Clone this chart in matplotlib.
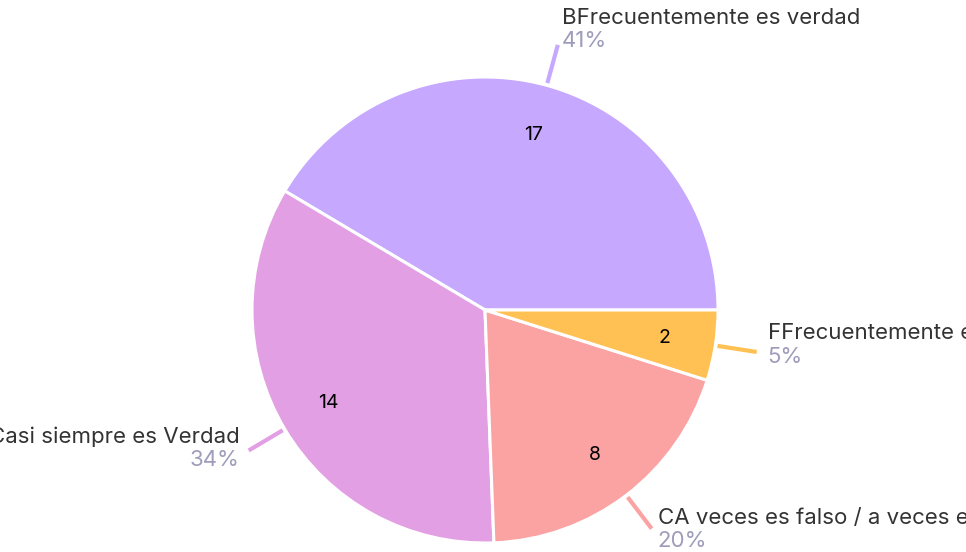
import matplotlib.pyplot as plt
import numpy as np

labels = ["BFrecuentemente es verdad", "Casi siempre es Verdad",
          "CA veces es falso / a veces es verdad", "FFrecuentemente es falso"]
counts = [17, 14, 8, 2]
colors = ["#c6a8ff", "#e29fe3", "#fba3a3", "#ffc153"]

W, H = 966, 552
fig = plt.figure(figsize=(W / 100, H / 100), dpi=100)
ax = fig.add_axes([0, 0, 1, 1])

cx, cy, r = 485, H - 310, 233
wedges, _ = ax.pie(counts, colors=colors, startangle=0, counterclock=True,
                   center=(cx, cy), radius=r, frame=True,
                   wedgeprops=dict(edgecolor="white", linewidth=2.2))
ax.set_xlim(0, W)
ax.set_ylim(0, H)
ax.set_aspect("equal")
ax.axis("off")

total = sum(counts)
# label block offsets (dx, label dy, pct dy) relative to leader end, in px
offs = [(4, 27, 4), (-9, 14, -10), (6, 11, -12), (11, 19, -5)]
for w, n, lab, col, (dx, dyl, dyp) in zip(wedges, counts, labels, colors, offs):
    a = np.deg2rad((w.theta1 + w.theta2) / 2)
    c, s = np.cos(a), np.sin(a)
    # count inside
    rin = 0.78 * r
    ax.text(cx + rin * c, cy + rin * s, str(n), ha="center", va="center",
            fontsize=14, color="black", family="Inter")
    x0, y0 = cx + 1.01 * r * c, cy + 1.01 * r * s
    x1, y1 = cx + 1.18 * r * c, cy + 1.18 * r * s
    ax.plot([x0, x1], [y0, y1], color=col, lw=3, solid_capstyle="butt")
    ha = "left" if c > 0 else "right"
    ax.text(x1 + dx, y1 + dyl, lab, ha=ha, va="center", fontsize=16,
            color="#333333", family="Inter")
    ax.text(x1 + dx, y1 + dyp, f"{round(100 * n / total)}%", ha=ha, va="center",
            fontsize=16, color="#9e9cba", family="Inter")

fig.savefig("out.png", dpi=100)
